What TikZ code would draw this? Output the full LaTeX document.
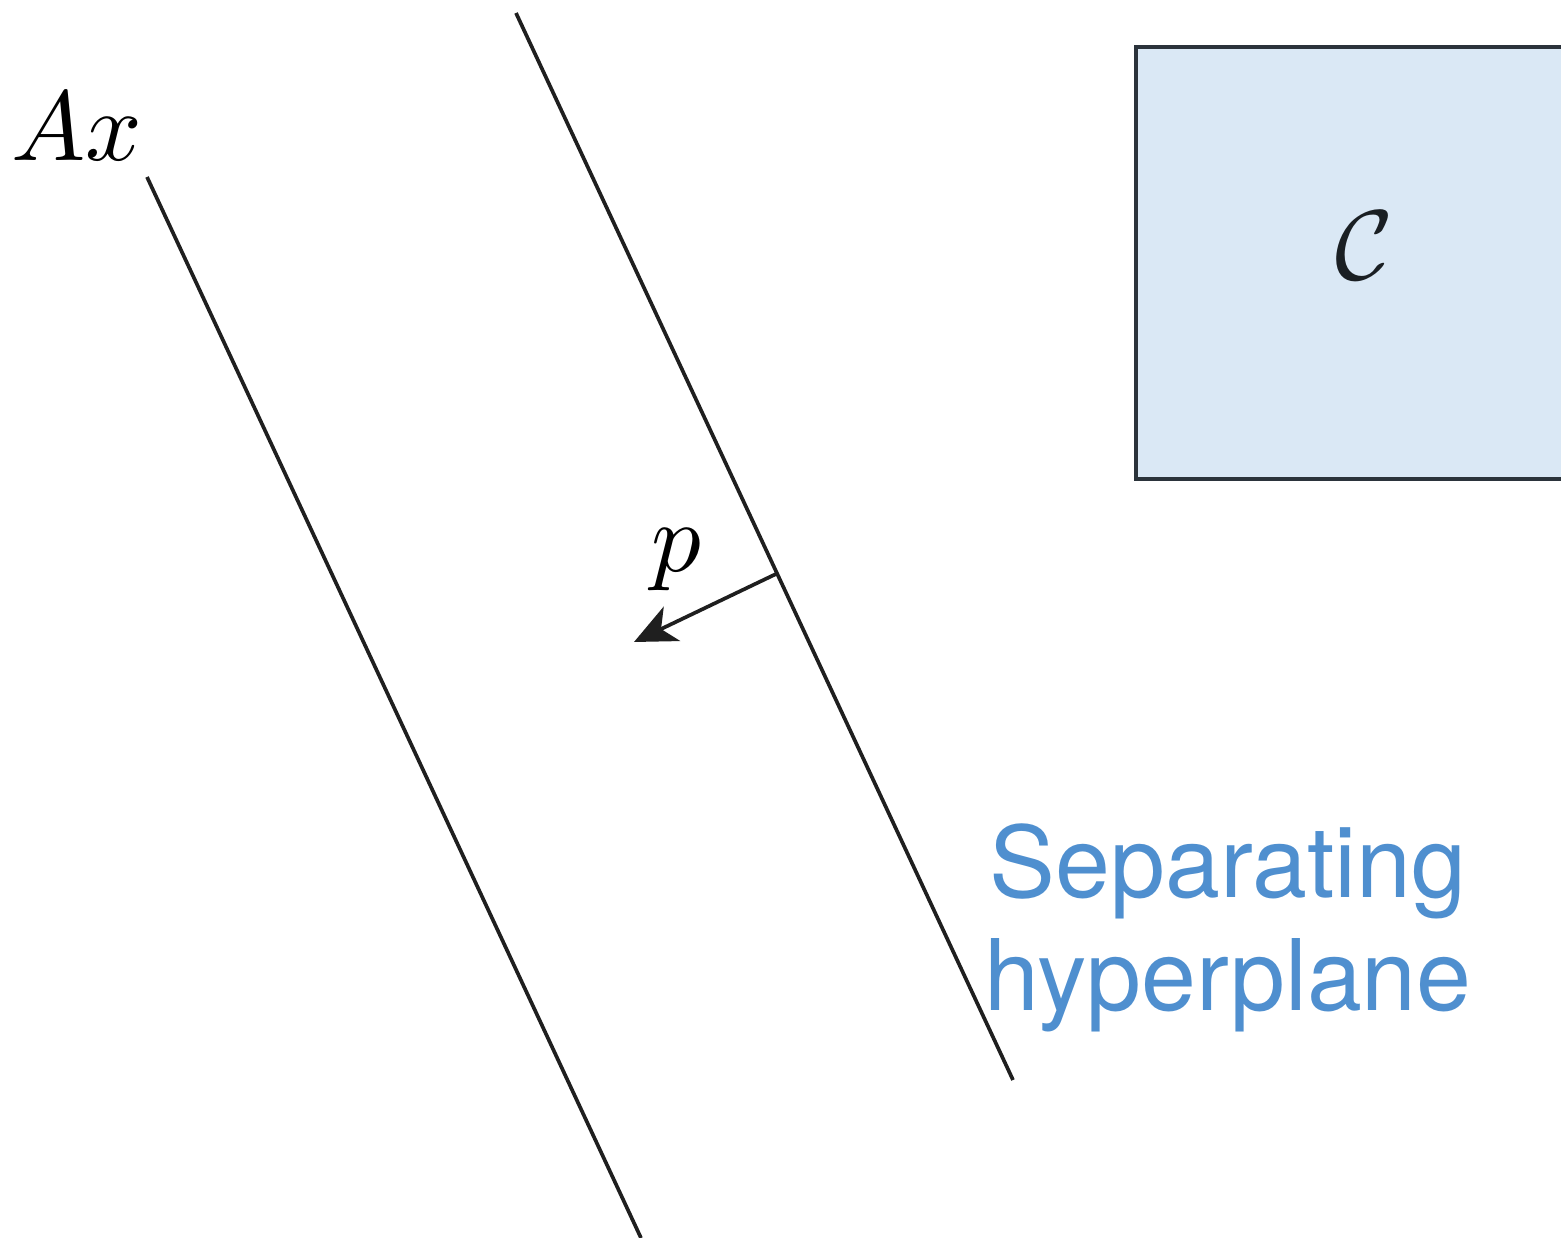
\documentclass[tikz,border=0pt]{standalone}
\usepackage{amsmath,amssymb}
\usepackage{graphicx}
\usepackage{fontspec}
\newfontfamily\labelfont{TeX Gyre Heros}
\usepackage{xcolor}
\usepackage{tikz}
\usetikzlibrary{arrows.meta,positioning,calc}
\definecolor{setfill}{HTML}{DAE8F5}
\definecolor{setedge}{HTML}{2B333B}
\definecolor{inkdark}{HTML}{1F1F1F}
\definecolor{sepblue}{HTML}{4F8FCF}
\tikzset{
  plane/.style={draw=inkdark, line width=1.05pt},
  cset/.style={draw=setedge, fill=setfill, line width=1.3pt},
  mlbl/.style={inner sep=0pt},
  seplbl/.style={inner sep=0pt, align=center, text=sepblue,
    font=\labelfont\fontsize{28.1}{32.2}\selectfont},
  dirarrow/.style={-{Stealth[length=4.2mm, width=3.8mm, inset=1.2mm]}, draw=inkdark, line width=1.05pt}
}
\newcommand{\bigmath}[1]{\scalebox{2.82}{$#1$}}

\begin{document}
\begin{tikzpicture}
  \useasboundingbox (0,0) rectangle (15.61,12.38);
  \clip (0,0) rectangle (15.61,12.38);

  % the set C
  \draw[cset] (11.36,7.59) rectangle (15.9,11.91);
  \node[mlbl, text=setedge!60!black] (cset) at (13.64,9.92) {\bigmath{\mathcal{C}}};

  % the range of A
  \coordinate (axtop) at (1.47,10.61);
  \coordinate (axbot) at (6.41,0.00);
  \draw[plane] (axtop) -- (axbot);
  \node[mlbl] (ax) at (0.77,11.11) {\bigmath{Ax}};

  % separating hyperplane and its normal
  \coordinate (hptop) at (5.16,12.25);
  \coordinate (hpbot) at (10.13,1.58);
  \draw[plane] (hptop) -- (hpbot);
  \coordinate (pfoot) at (7.76,6.64);
  \coordinate (ptip) at (6.34,5.96);
  \draw[dirarrow] (pfoot) -- (ptip);
  \node[mlbl] (p) at (6.76,6.78) {\bigmath{p}};

  \node[seplbl] (sep) at (12.28,3.10) {Separating\\hyperplane};
\end{tikzpicture}
\end{document}
